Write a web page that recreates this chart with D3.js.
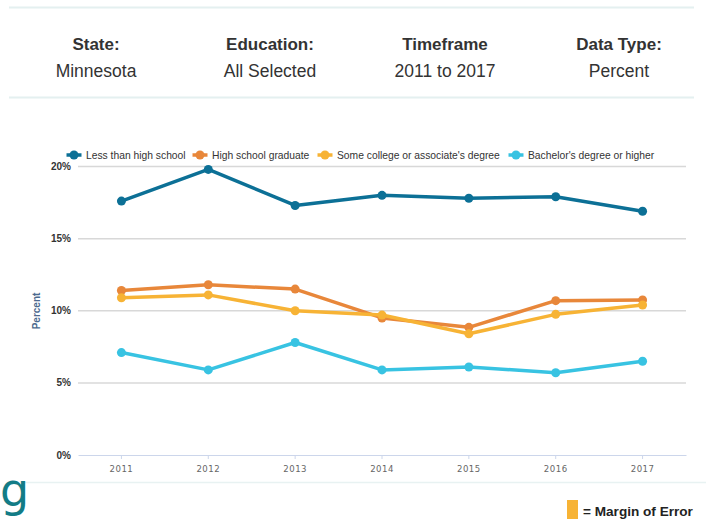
<!DOCTYPE html>
<html><head><meta charset="utf-8">
<script src="https://cdn.jsdelivr.net/npm/d3@7"></script>
<style>
body{margin:0;background:#fff;}
svg{display:block;font-family:"Liberation Sans",Arial,sans-serif;}
</style></head>
<body><svg id="c" width="710" height="519"></svg>
<script>
const years = ["2011","2012","2013","2014","2015","2016","2017"];
const seriesNames = ["Less than high school","High school graduate","Some college or associate's degree","Bachelor's degree or higher"];
const seriesColors = ["#0c7096","#e8873a","#f7b335","#38c3e2"];
const lessThanHS = [17.6,19.8,17.3,18.0,17.8,17.9,16.9];
const hsGrad = [11.4,11.8,11.5,9.5,8.85,10.7,10.75];
const someCollege = [10.9,11.1,10.0,9.7,8.4,9.75,10.4];
const bachelors = [7.1,5.9,7.8,5.9,6.1,5.7,6.5];
const yTicks = [0,5,10,15,20];
const headerTitles = ["State:","Education:","Timeframe","Data Type:"];
const headerValues = ["Minnesota","All Selected","2011 to 2017","Percent"];
const seriesValues = [lessThanHS,hsGrad,someCollege,bachelors];

const svg = d3.select("#c");

// header
svg.append("line").attr("x1",9).attr("x2",694).attr("y1",7.5).attr("y2",7.5).attr("stroke","#e4f0f0").attr("stroke-width",2);
svg.append("line").attr("x1",9).attr("x2",694).attr("y1",97.5).attr("y2",97.5).attr("stroke","#e4f0f0").attr("stroke-width",2);
const hx = [96,270,445,619];
headerTitles.forEach((t,i)=>{
  svg.append("text").attr("x",hx[i]).attr("y",50).attr("text-anchor","middle")
    .attr("font-size","17px").attr("font-weight","bold").attr("fill","#333").text(t);
  svg.append("text").attr("x",hx[i]).attr("y",76.5).attr("text-anchor","middle")
    .attr("font-size","17.5px").attr("fill","#333").text(headerValues[i]);
});

// chart
const x = d3.scaleBand().domain(years).range([78,686]);
const y = d3.scaleLinear().domain([0,20]).range([455,166.5]);
const cx = d => x(d)+x.bandwidth()/2;

const g = svg.append("g");
g.selectAll(".grid").data(yTicks.filter(t=>t>0)).enter().append("line")
  .attr("x1",78).attr("x2",686).attr("y1",d=>y(d)).attr("y2",d=>y(d))
  .attr("stroke","#d8d8d8").attr("stroke-width",1.5);
g.selectAll(".yl").data(yTicks).enter().append("text")
  .attr("x",71).attr("y",d=>y(d)+3.5).attr("text-anchor","end")
  .attr("font-size","10px").attr("font-weight","bold").attr("fill","#333")
  .text(d=>d+"%");
const xAxis = d3.axisBottom(x).tickSize(5).tickSizeOuter(0);
const xa = g.append("g").attr("transform","translate(0,455)").call(xAxis);
xa.select(".domain").attr("stroke","#ccd6eb");
xa.selectAll(".tick line").attr("stroke","#ccd6eb").attr("y2",4);
xa.selectAll(".tick text").attr("fill","#666").attr("font-size","9.5px").attr("dy","0.9em")
  .attr("font-family","'DejaVu Sans Condensed','Liberation Sans Narrow',sans-serif").attr("letter-spacing","0.5px");

g.append("text").attr("transform","translate(40,311) rotate(-90)").attr("text-anchor","middle")
  .attr("font-size","10px").attr("font-weight","bold").attr("fill","#4d6a8e").text("Percent");

const line = d3.line().x((d,i)=>cx(years[i])).y(d=>y(d));
seriesValues.forEach((vals,si)=>{
  g.append("path").datum(vals).attr("d",line).attr("fill","none")
    .attr("stroke",seriesColors[si]).attr("stroke-width",3.5).attr("stroke-linejoin","round");
  g.selectAll(".pt"+si).data(vals).enter().append("circle")
    .attr("cx",(d,i)=>cx(years[i])).attr("cy",d=>y(d)).attr("r",4.5).attr("fill",seriesColors[si]);
});

const lx = [74,200,325,516];
seriesNames.forEach((n,i)=>{
  const lg = svg.append("g").attr("transform",`translate(${lx[i]},155)`);
  lg.append("line").attr("x1",-7.5).attr("x2",7.5).attr("stroke",seriesColors[i]).attr("stroke-width",3.5);
  lg.append("circle").attr("r",4.5).attr("fill",seriesColors[i]);
  lg.append("text").attr("x",12).attr("y",3.8).attr("font-size","10.3px").attr("fill","#333").text(n);
});

svg.append("line").attr("x1",22).attr("x2",706).attr("y1",482.5).attr("y2",482.5).attr("stroke","#e8f2f2").attr("stroke-width",1.5);
svg.append("text").attr("x",0).attr("y",506).attr("font-size","46px").attr("fill","#137c86")
  .attr("font-family","'DejaVu Sans',sans-serif").text("g");
svg.append("rect").attr("x",567).attr("y",500).attr("width",11).attr("height",19).attr("fill","#f7b335");
svg.append("text").attr("x",583).attr("y",516).attr("font-size","13.6px").attr("font-weight","bold").attr("fill","#222").text("= Margin of Error");
</script></body></html>
